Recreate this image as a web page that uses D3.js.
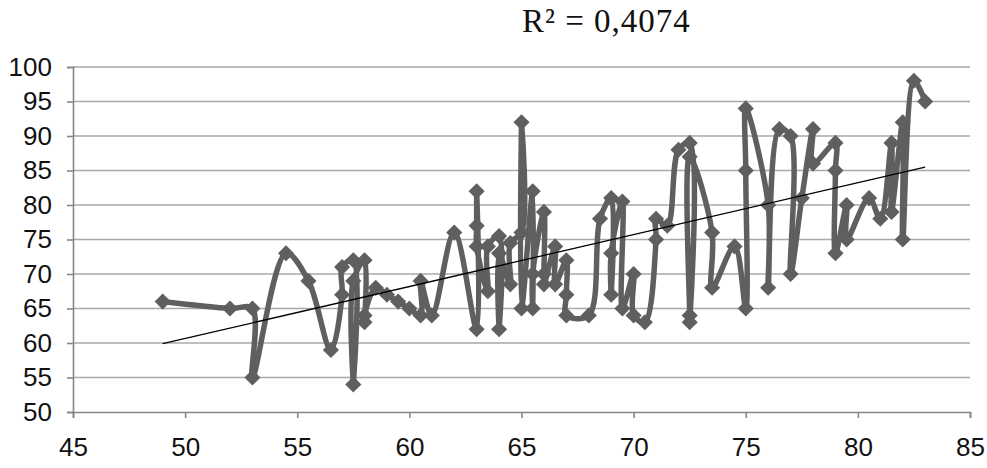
<!DOCTYPE html>
<html><head><meta charset="utf-8">
<script src="https://cdn.jsdelivr.net/npm/d3@7"></script>
<style>body{margin:0;background:#fff}</style></head><body>
<svg id="c" width="987" height="468"></svg>
<script>
const xValues = [49,52,53,53,54.5,55.5,56.5,57,57,57.5,57.5,57.5,58,58,58,58.5,59,59.5,60,60.5,60.5,61,62,
  63,63,63,63,63.5,63.5,64,64,64,64.5,64.5,65,65,65,65.5,65.5,65.5,66,66,66,66.5,66.5,67,67,67,
  68,68.5,69,69,69,69.5,69.5,70,70,70.5,71,71,71.5,72,72.5,72.5,72.5,72.5,73.5,73.5,74.5,
  75,75,75,76,76,76.5,77,77,77.5,78,78,79,79,79,79.5,79.5,80.5,81,81.5,81.5,82,82,82.5,83];
const yValues = [66,65,65,55,73,69,59,67,71,72,54,69,72,63,64,68,67,66,65,64,69,64,76,
  62,82,77,74,67.5,74,75.5,62,73,68.5,74.5,76,92,65,82,65,70,79,70,68.5,74,68.5,72,67,64,
  64,78,81,67,73,80.5,65,70,64,63,75,78,77,88,89,63,64,87,76,68,74,
  65,85,94,80,68,91,90,70,81,91,86,89,85,73,80,75,81,78,89,79,92,75,98,95];
const xTicks = [45,50,55,60,65,70,75,80,85];
const yTicks = [50,55,60,65,70,75,80,85,90,95,100];
// linear trendline endpoints as shown in the chart
const trendX = [49, 83];
const trendY = [59.9, 85.5];
const r2Label = "R² = 0,4074";

const svg = d3.select('#c');
const x = d3.scaleLinear().domain([45,85]).range([73,970]);
const y = d3.scaleLinear().domain([50,100]).range([412,67]);
const data = xValues.map((v,i)=>({x:v,y:yValues[i]}));

svg.append('g').selectAll('line').data(yTicks.filter(t=>t>50)).join('line')
  .attr('x1',x(45)).attr('x2',x(85)).attr('y1',d=>y(d)).attr('y2',d=>y(d))
  .attr('stroke','#a9a9a9').attr('stroke-width',1.6);

const font = '"Liberation Sans", Arial, sans-serif';
const gx = svg.append('g').attr('transform',`translate(0,${y(50)})`)
  .call(d3.axisBottom(x).tickValues(xTicks).tickSize(6).tickPadding(20).tickFormat(d3.format('d')));
const gy = svg.append('g').attr('transform',`translate(${x(45)},0)`)
  .call(d3.axisLeft(y).tickValues(yTicks).tickSize(6).tickPadding(15).tickFormat(d3.format('d')));
[gx,gy].forEach(g=>{
  g.selectAll('path,line').attr('stroke','#868686').attr('stroke-width',1.6);
  g.selectAll('text').attr('fill','#111').style('font-family',font).style('font-size','26px');
});

const line = d3.line().x(d=>x(d.x)).y(d=>y(d.y)).curve(d3.curveCatmullRom.alpha(0.5));
svg.append('path').datum(data).attr('d',line).attr('fill','none')
  .attr('stroke','#5f5f5f').attr('stroke-width',5.5).attr('stroke-linejoin','round');

const sym = d3.symbol(d3.symbolSquare, 130);
svg.append('g').selectAll('path').data(data).join('path')
  .attr('d',sym).attr('fill','#5f5f5f')
  .attr('transform',d=>`translate(${x(d.x)},${y(d.y)}) rotate(45)`);

svg.append('line').attr('x1',x(trendX[0])).attr('x2',x(trendX[1]))
  .attr('y1',y(trendY[0])).attr('y2',y(trendY[1]))
  .attr('stroke','#000').attr('stroke-width',1.3);

svg.append('text').attr('x',522).attr('y',32).text(r2Label)
  .style('font-family','"Liberation Serif", "Times New Roman", serif').style('font-size','33px')
  .style('letter-spacing','1px').attr('fill','#111');
</script></body></html>
